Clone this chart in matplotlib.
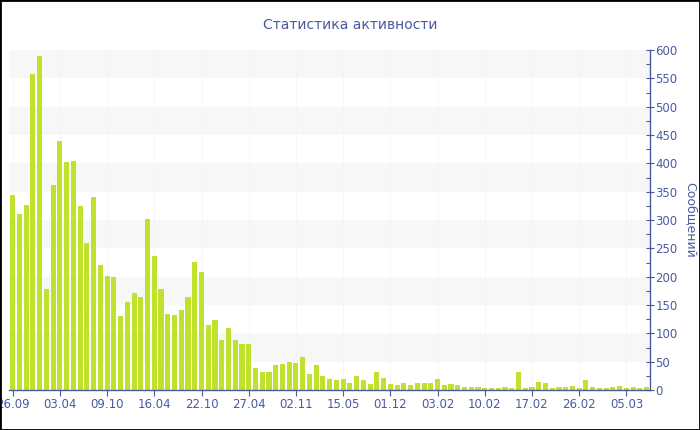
import matplotlib
matplotlib.use("Agg")
import matplotlib.pyplot as plt
from matplotlib.patches import Rectangle
from matplotlib.ticker import MultipleLocator

values = [344, 311, 326, 557, 589, 179, 361, 439, 403, 404,
          324, 259, 340, 220, 202, 199, 131, 156, 172, 164,
          301, 236, 178, 135, 133, 142, 165, 226, 208, 114,
          123, 89, 109, 89, 81, 81, 38, 32, 31, 44,
          46, 50, 47, 59, 28, 44, 24, 19, 18, 19,
          12, 25, 18, 10, 31, 22, 11, 9, 12, 8,
          12, 13, 12, 19, 8, 11, 8, 5, 6, 6,
          3, 3, 3, 6, 3, 31, 3, 6, 14, 12,
          3, 6, 6, 7, 3, 17, 5, 3, 3, 5,
          7, 3, 5, 3, 6]
tick_labels = ["26.09", "03.04", "09.10", "16.04", "22.10", "27.04", "02.11",
               "15.05", "01.12", "03.02", "10.02", "17.02", "26.02", "05.03"]
tick_step = 7
title = "Статистика активности"
ylabel = "Сообщений"

blue = "#4a5aa0"
bar_color = "#bfe22f"

fig = plt.figure(figsize=(7, 4.3), dpi=100)
ax = fig.add_axes([9.3 / 700, 40 / 430, (650 - 9.3) / 700, 340 / 430])

n = len(values)
# alternating bands
for lo in range(50, 600, 100):
    ax.axhspan(lo, lo + 50, color="#f7f7f7", zorder=0, lw=0)

ticks = list(range(0, n, tick_step))[:len(tick_labels)]
for t in ticks:
    ax.axvline(t, color="#f3f3f3", lw=0.5, zorder=0.5)

ax.bar(range(n), values, width=0.76, color=bar_color, zorder=2)

ax.set_xlim(-0.5, n - 0.5)
ax.set_ylim(0, 600)
ax.set_xticks(ticks)
ax.set_xticklabels(tick_labels)

ax.yaxis.tick_right()
ax.yaxis.set_label_position("right")
ax.yaxis.set_major_locator(MultipleLocator(50))
ax.yaxis.set_minor_locator(MultipleLocator(25))
ax.set_ylabel(ylabel, rotation=270, color=blue, fontsize=9, labelpad=14)

for s in ["top", "left"]:
    ax.spines[s].set_visible(False)
for s in ["right", "bottom"]:
    ax.spines[s].set_color(blue)
    ax.spines[s].set_linewidth(1.0)

ax.tick_params(axis="x", colors=blue, labelcolor=blue, labelsize=8.5,
               length=4, width=0.8, direction="out", pad=2)
ax.tick_params(axis="y", which="major", colors=blue, labelcolor=blue,
               labelsize=8.5, length=6, width=0.8, direction="inout", pad=1)
ax.tick_params(axis="y", which="minor", colors=blue, length=3, width=0.8,
               direction="in")

fig.text(0.5, 1 - 25 / 430, title, ha="center", va="center",
         color=blue, fontsize=10)

fig.patches.append(Rectangle((0, 0), 1, 1, transform=fig.transFigure,
                             fill=False, edgecolor="black", lw=2.0))

fig.savefig("out.png", dpi=100, facecolor="white")
